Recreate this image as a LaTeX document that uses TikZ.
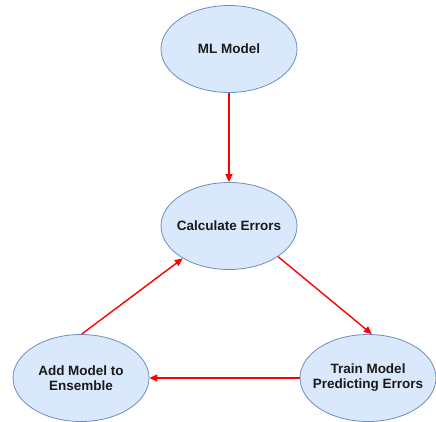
\documentclass[tikz,border=0pt]{standalone}
\usepackage{fontspec}
\setmainfont{Liberation Sans}
\usetikzlibrary{arrows.meta,shapes.geometric}
\definecolor{nodefill}{HTML}{DAE8FC}
\definecolor{nodeline}{HTML}{6C8EBF}
\definecolor{txt}{HTML}{1A1A1A}
\begin{document}
\begin{tikzpicture}[x=1pt,y=-1pt,
  blob/.style={ellipse, draw=nodeline, fill=nodefill, line width=0.8pt,
    minimum width=136pt, minimum height=87pt, inner xsep=-25pt, inner ysep=0pt,
    font=\fontsize{13.5}{15}\selectfont\bfseries, text=txt, align=center},
  link/.style={draw=red, line width=1.4pt, -{Triangle[length=8pt,width=7pt]}}]
\useasboundingbox[fill=white] (0,0) rectangle (436,422);
\node[blob] (ml) at (229,49) {ML Model};
\node[blob] (calc) at (229,226) {Calculate Errors};
\node[blob] (add) at (81,378) {Add Model to\\Ensemble};
\node[blob] (train) at (368,378) {Train Model\\Predicting Errors};
\draw[link] (ml.south) -- (calc.north);
\draw[link] (calc.-32) -- (train.85);
\draw[link] (train.west) -- (add.east);
\draw[link] (add.89) -- (calc.-145);
\end{tikzpicture}
\end{document}
